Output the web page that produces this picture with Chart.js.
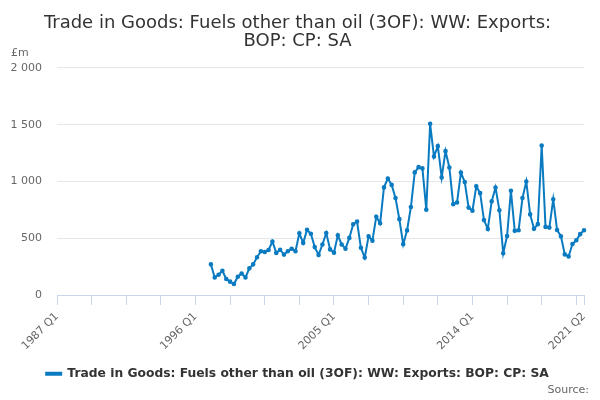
<!DOCTYPE html>
<html>
<head>
<meta charset="utf-8">
<script src="https://cdn.jsdelivr.net/npm/chart.js@4"></script>
<style>
  html, body { margin: 0; padding: 0; background: #fff; }
  #wrap { width: 600px; height: 400px; position: relative; }
</style>
</head>
<body>
<div id="wrap"><canvas id="lineChart"></canvas></div>
<script>
// quarters 1987 Q1 .. 2021 Q2
const quarters = [];
for (let y = 1987; y <= 2021; y++) {
    for (let q = 1; q <= 4; q++) {
        if (y === 2021 && q > 2) break;
        quarters.push(y + ' Q' + q);
    }
}
const firstQuarter = '1997 Q1';
const exportValues = [
    270, 155, 178, 213, 141, 118, 97, 161, 190, 155, 235, 270,
    333, 385, 379, 397, 471, 371, 399, 356, 385, 408, 385, 543,
    459, 574, 540, 422, 353, 445, 546, 402, 373, 526, 445, 408,
    503, 623, 647, 416, 330, 517, 479, 690, 632, 948, 1026, 970,
    854, 668, 448, 569, 775, 1080, 1126, 1115, 752, 1508, 1219, 1311,
    1036, 1267, 1123, 800, 815, 1078, 995, 770, 743, 958, 897, 660,
    582, 825, 946, 747, 368, 519, 918, 565, 571, 854, 1000, 710,
    583, 624, 1317, 600, 594, 844, 573, 518, 358, 340, 450, 482,
    536, 571
];
const labelledQuarters = ['1987 Q1', '1996 Q1', '2005 Q1', '2014 Q1', '2021 Q2'];
const yTicks = [0, 500, 1000, 1500, 2000];

const seriesData = quarters.map(() => null);
const start = quarters.indexOf(firstQuarter);
exportValues.forEach((v, i) => { seriesData[start + i] = v; });

const lastIdx = quarters.length - 1;
const showTick = i => i % 9 === 0 || i === lastIdx;
const FONT = 'DejaVu Sans';

const sourcePlugin = {
    id: 'sourceNote',
    afterDraw(chart) {
        const c = chart.ctx;
        c.save();
        c.font = '11px "DejaVu Sans"';
        c.fillStyle = '#666';
        c.textAlign = 'right';
        c.textBaseline = 'middle';
        c.fillText('Source:', 589, 390);
        c.restore();
    }
};

const ctx = document.getElementById('lineChart').getContext('2d');
const lineChart = new Chart(ctx, {
    type: 'line',
    data: {
        labels: quarters,
        datasets: [{
            label: 'Trade in Goods: Fuels other than oil (3OF): WW: Exports: BOP: CP: SA',
            data: seriesData,
            borderColor: '#0b7bc1',
            backgroundColor: '#0b7bc1',
            borderWidth: 2,
            pointRadius: 1.3,
            pointHoverRadius: 3,
            tension: 0,
            spanGaps: false
        }]
    },
    options: {
        responsive: true,
        maintainAspectRatio: false,
        animation: false,
        layout: { padding: { left: 11, right: 16, top: 4, bottom: 10 } },
        plugins: {
            title: {
                display: true,
                text: ['Trade in Goods: Fuels other than oil (3OF): WW: Exports:', 'BOP: CP: SA'],
                color: '#333',
                font: { family: FONT, size: 18, weight: 'normal', lineHeight: 1.02 },
                padding: { top: 10, bottom: 0 }
            },
            subtitle: {
                display: true,
                text: '£m',
                align: 'start',
                color: '#666',
                font: { family: FONT, size: 11 },
                padding: { top: -4, bottom: 8 }
            },
            legend: {
                position: 'bottom',
                labels: {
                    color: '#333',
                    font: { family: FONT, size: 12.3, weight: 'bold' },
                    boxWidth: 15,
                    boxHeight: 2,
                    padding: 10
                }
            },
            tooltip: { enabled: false }
        },
        scales: {
            x: {
                afterFit: scale => { scale.paddingLeft = 0; scale.paddingRight = 0; },
                grid: {
                    drawOnChartArea: false,
                    drawTicks: true,
                    tickLength: 10,
                    lineWidth: 1,
                    color: c => showTick(c.index) ? '#ccd6eb' : 'rgba(0,0,0,0)',
                    tickColor: c => showTick(c.index) ? '#ccd6eb' : 'rgba(0,0,0,0)'
                },
                border: { color: '#ccd6eb', width: 1 },
                ticks: {
                    autoSkip: false,
                    maxRotation: 45,
                    minRotation: 45,
                    padding: 5,
                    color: '#666',
                    font: { family: FONT, size: 11 },
                    callback: function (val) {
                        const q = this.getLabelForValue(val);
                        return labelledQuarters.includes(q) ? q : '';
                    }
                }
            },
            y: {
                min: yTicks[0],
                max: yTicks[yTicks.length - 1],
                afterBuildTicks: axis => { axis.ticks = yTicks.map(v => ({ value: v })); },
                afterFit: scale => { scale.width = 46; },
                grid: { color: '#e6e6e6', drawTicks: false },
                border: { display: false },
                ticks: {
                    color: '#666',
                    padding: 15,
                    font: { family: FONT, size: 11 },
                    callback: v => String(v).replace(/\B(?=(\d{3})+(?!\d))/g, ' ')
                }
            }
        }
    },
    plugins: [sourcePlugin]
});
</script>
</body>
</html>
